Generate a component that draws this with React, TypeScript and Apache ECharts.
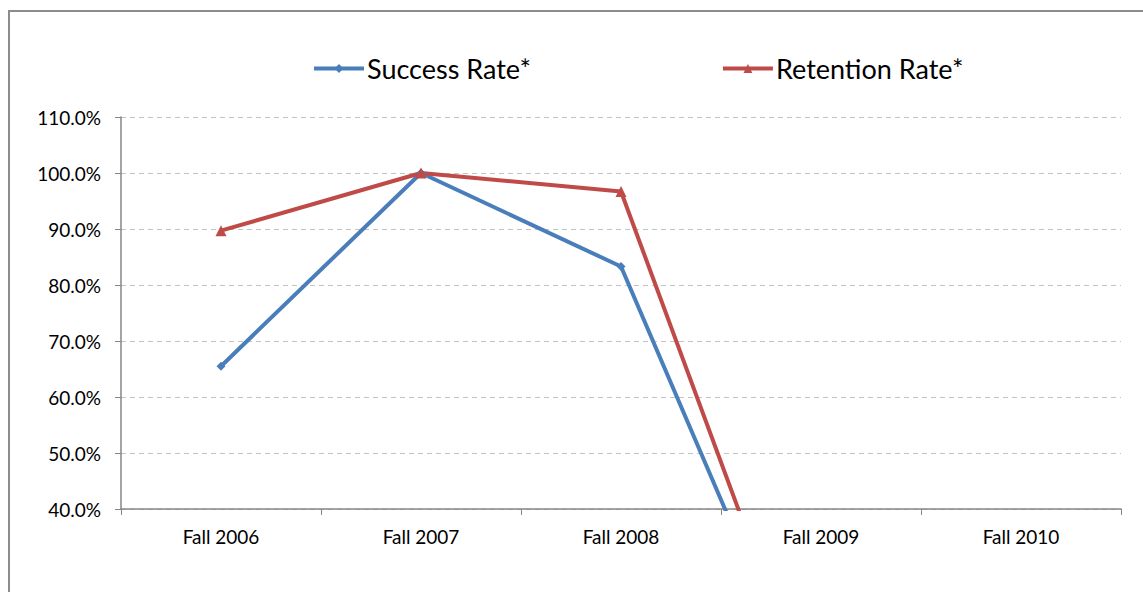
import React, { useEffect, useRef } from "react";
import * as echarts from "echarts";

const categories = ["Fall 2006", "Fall 2007", "Fall 2008", "Fall 2009", "Fall 2010"];
const successRate = [65.5, 100, 83.3, 0, 0];
const retentionRate = [89.7, 100, 96.7, 0, 0];
const seriesNames = ["Success Rate*", "Retention Rate*"];

const FONT = "Lato";

export default function App() {
  const ref = useRef<HTMLDivElement>(null);
  useEffect(() => {
    if (!ref.current) return;
    const chart = echarts.init(ref.current, undefined, { renderer: "svg" });
    chart.setOption({
      animation: false,
      backgroundColor: "#ffffff",
      graphic: [
        {
          type: "rect",
          shape: { x: 9, y: 11, width: 1300, height: 800 },
          style: { fill: "none", stroke: "#8c8c8c", lineWidth: 2 },
          silent: true,
        },
      ],
      legend: {
        top: 55,
        left: 312,
        padding: 0,
        itemGap: 190,
        itemWidth: 50,
        itemHeight: 11,
        lineStyle: { width: 4 },
        textStyle: { fontFamily: FONT, fontSize: 27, color: "#000", padding: [0, 0, 0, -2] },
        data: seriesNames,
      },
      grid: { left: 121, top: 117, width: 1000, height: 392, containLabel: false },
      xAxis: {
        type: "category",
        data: categories,
        boundaryGap: true,
        axisLine: { lineStyle: { color: "#868686", width: 1.5 } },
        axisTick: { show: true, length: 6, alignWithLabel: false, lineStyle: { color: "#868686" } },
        axisLabel: { fontFamily: FONT, fontSize: 19, color: "#000", margin: 18 },
        splitLine: { show: false },
      },
      yAxis: {
        type: "value",
        min: 40,
        max: 110,
        interval: 10,
        axisLine: { show: true, lineStyle: { color: "#868686", width: 1.5 } },
        axisTick: { show: true, length: 6, lineStyle: { color: "#868686" } },
        axisLabel: {
          fontFamily: FONT,
          fontSize: 19,
          color: "#000",
          margin: 20,
          formatter: (v: number) => v.toFixed(1) + "%",
        },
        splitLine: { show: true, lineStyle: { color: "#c3c3c3", type: [5, 4], width: 1 } },
      },
      series: [
        {
          name: seriesNames[0],
          type: "line",
          data: successRate,
          clip: true,
          symbol: "diamond",
          symbolSize: 9,
          lineStyle: { color: "#4a7ebb", width: 4 },
          itemStyle: { color: "#4a7ebb" },
        },
        {
          name: seriesNames[1],
          type: "line",
          data: retentionRate,
          clip: true,
          symbol: "triangle",
          symbolSize: 11,
          lineStyle: { color: "#be4b48", width: 4 },
          itemStyle: { color: "#be4b48" },
        },
      ],
    });
    return () => chart.dispose();
  }, []);
  return (
    <div
      ref={ref}
      style={{ width: 1143, height: 592, position: "absolute", left: 0, top: 0 }}
    />
  );
}
